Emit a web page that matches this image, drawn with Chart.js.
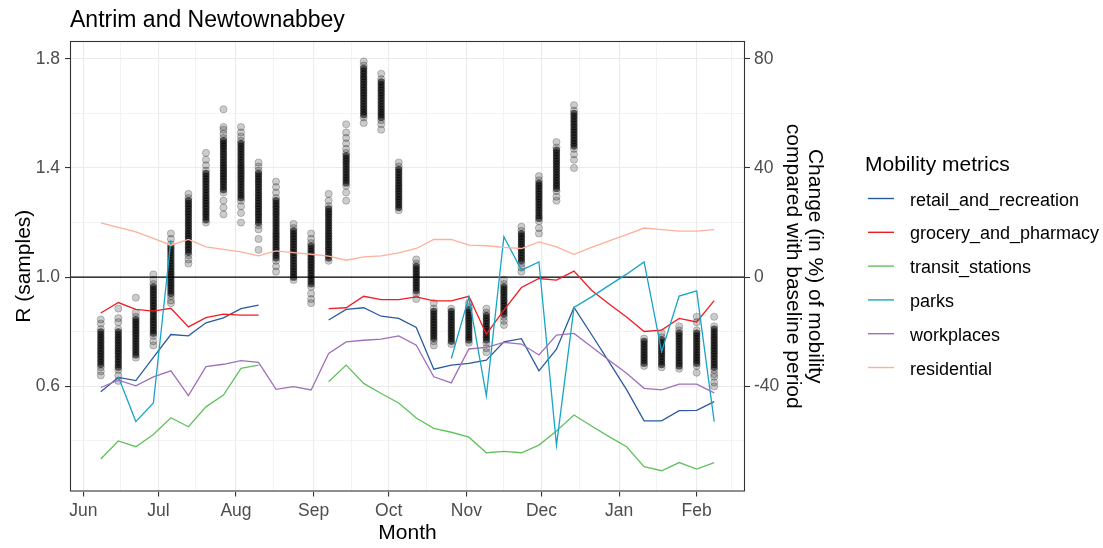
<!DOCTYPE html>
<html>
<head>
<meta charset="utf-8">
<title>Antrim and Newtownabbey</title>
<script src="https://cdn.jsdelivr.net/npm/chart.js@4.4.0/dist/chart.umd.min.js"></script>
<style>
    html, body { margin: 0; padding: 0; background: #ffffff; }
    #wrap { width: 1103px; height: 548px; }
</style>
</head>
<body>
<div id="wrap"><canvas id="chart" width="1103" height="548"></canvas></div>
<script>
// Weekly dates (one point per week for mobility and for the R samples)
const weeks = [
    '2020-06-08', '2020-06-15', '2020-06-22', '2020-06-29', '2020-07-06', '2020-07-13',
    '2020-07-20', '2020-07-27', '2020-08-03', '2020-08-10', '2020-08-17', '2020-08-24',
    '2020-08-31', '2020-09-07', '2020-09-14', '2020-09-21', '2020-09-28', '2020-10-05',
    '2020-10-12', '2020-10-19', '2020-10-26', '2020-11-02', '2020-11-09', '2020-11-16',
    '2020-11-23', '2020-11-30', '2020-12-07', '2020-12-14', '2020-12-21', '2020-12-28',
    '2021-01-04', '2021-01-11', '2021-01-18', '2021-01-25', '2021-02-01', '2021-02-08'
];

// Mobility change (%) vs baseline, right axis
const retail = [-42.0, -36.7, -37.9, -29.4, -21.0, -21.5, -16.7, -14.9, -11.5, -10.2, null, null, null, -15.7, -11.8, -11.2, -14.3, -15.1, -18.4, -33.7, -32.2, -31.6, -30.4, -23.7, -22.5, -34.3, -26.4, -11.1, -21.0, -31.0, -41.2, -52.6, -52.6, -48.9, -48.8, -45.6];
const grocery = [-13.1, -9.3, -11.8, -12.4, -11.4, -18.2, -14.8, -13.5, -13.9, -13.9, null, null, null, -11.5, -11.2, -7.0, -8.2, -8.2, -7.2, -8.7, -8.7, -7.0, -20.9, -12.1, -3.8, -0.5, -1.1, 2.2, -4.8, -9.8, -14.6, -19.9, -19.4, -15.1, -16.4, -8.6];
const transit = [-66.6, -60.0, -62.1, -57.6, -51.5, -54.8, -47.5, -43.2, -33.4, -32.2, null, null, null, -38.3, -32.2, -38.9, -42.6, -46.1, -51.6, -55.4, -56.8, -58.6, -64.3, -63.8, -64.3, -61.5, -56.3, -50.5, -54.5, -58.4, -62.1, -69.4, -70.9, -67.9, -70.3, -67.9];
const parks = [null, -36.5, -52.9, -46.1, 13.5, null, null, null, null, null, null, null, null, null, null, null, null, null, null, null, -29.8, -7.3, -43.5, 14.8, 2.6, 5.6, -61.6, -11.1, -7.2, -3.0, 1.1, 5.6, -27.3, -6.9, -5.0, -52.9];
const workplaces = [-40.4, -37.7, -39.8, -36.5, -34.3, -43.4, -32.8, -31.9, -30.6, -31.2, -41.1, -40.1, -41.3, -27.9, -23.7, -23.1, -22.7, -21.5, -24.9, -36.5, -38.7, -26.3, -25.7, -23.9, -24.5, -28.5, -21.2, -20.6, -25.5, -30.4, -35.2, -40.7, -41.3, -39.2, -39.2, -42.4];
const residential = [19.9, 18.2, 16.6, 14.2, 11.7, 13.8, 11.1, 10.2, 9.3, 7.8, 9.6, 9.0, 8.4, 7.7, 6.2, 7.4, 7.8, 8.9, 10.5, 13.8, 13.8, 11.7, 11.5, 10.9, 10.5, 12.9, 11.1, 8.4, 10.9, 13.3, 15.6, 18.0, 17.4, 16.9, 16.9, 17.4];

// R samples per week (left axis)
const rSamples = [
    [0.845, 0.83, 0.81, 0.80, 0.79, 0.78, 0.77, 0.76, 0.75, 0.74, 0.73, 0.72, 0.71, 0.70, 0.69, 0.68, 0.67, 0.655, 0.64],
    [0.885, 0.85, 0.835, 0.81, 0.80, 0.79, 0.78, 0.77, 0.76, 0.75, 0.74, 0.73, 0.72, 0.71, 0.70, 0.69, 0.68, 0.67, 0.66, 0.64, 0.62],
    [0.925, 0.87, 0.855, 0.845, 0.835, 0.825, 0.815, 0.805, 0.795, 0.785, 0.775, 0.765, 0.755, 0.745, 0.735, 0.725, 0.715, 0.705],
    [1.01, 0.99, 0.975, 0.965, 0.955, 0.945, 0.935, 0.925, 0.915, 0.905, 0.895, 0.885, 0.875, 0.865, 0.855, 0.845, 0.835, 0.825, 0.815, 0.805, 0.795, 0.785, 0.765, 0.75],
    [1.16, 1.14, 1.12, 1.11, 1.10, 1.09, 1.08, 1.07, 1.06, 1.05, 1.04, 1.03, 1.02, 1.01, 1.00, 0.99, 0.98, 0.97, 0.96, 0.95, 0.94, 0.93, 0.915, 0.905],
    [1.305, 1.29, 1.28, 1.27, 1.26, 1.25, 1.24, 1.23, 1.22, 1.21, 1.20, 1.19, 1.18, 1.17, 1.16, 1.15, 1.14, 1.13, 1.12, 1.11, 1.10, 1.09, 1.08, 1.065, 1.05],
    [1.455, 1.43, 1.41, 1.39, 1.38, 1.37, 1.36, 1.35, 1.34, 1.33, 1.32, 1.31, 1.30, 1.29, 1.28, 1.27, 1.26, 1.25, 1.24, 1.23, 1.22, 1.21, 1.20],
    [1.615, 1.55, 1.54, 1.525, 1.51, 1.50, 1.49, 1.48, 1.47, 1.46, 1.45, 1.44, 1.43, 1.42, 1.41, 1.40, 1.39, 1.38, 1.37, 1.36, 1.35, 1.34, 1.33, 1.32, 1.31, 1.28, 1.255, 1.23],
    [1.55, 1.53, 1.515, 1.50, 1.49, 1.48, 1.47, 1.46, 1.45, 1.44, 1.43, 1.42, 1.41, 1.40, 1.39, 1.38, 1.37, 1.36, 1.35, 1.34, 1.33, 1.32, 1.31, 1.30, 1.29, 1.28, 1.26, 1.235, 1.20],
    [1.42, 1.405, 1.39, 1.38, 1.37, 1.36, 1.35, 1.34, 1.33, 1.32, 1.31, 1.30, 1.29, 1.28, 1.27, 1.26, 1.25, 1.24, 1.23, 1.22, 1.21, 1.20, 1.19, 1.175, 1.14, 1.10],
    [1.35, 1.33, 1.31, 1.29, 1.28, 1.27, 1.26, 1.25, 1.24, 1.23, 1.22, 1.21, 1.20, 1.19, 1.18, 1.17, 1.16, 1.15, 1.14, 1.13, 1.12, 1.11, 1.10, 1.09, 1.08, 1.07, 1.06, 1.04, 1.02],
    [1.195, 1.18, 1.17, 1.16, 1.15, 1.14, 1.13, 1.12, 1.11, 1.10, 1.09, 1.08, 1.07, 1.06, 1.05, 1.04, 1.03, 1.02, 1.01, 1.00, 0.99],
    [1.16, 1.14, 1.125, 1.115, 1.105, 1.095, 1.085, 1.075, 1.065, 1.055, 1.045, 1.035, 1.025, 1.015, 1.005, 0.995, 0.985, 0.975, 0.965, 0.94, 0.92, 0.905],
    [1.305, 1.28, 1.26, 1.25, 1.24, 1.23, 1.22, 1.21, 1.20, 1.19, 1.18, 1.17, 1.16, 1.15, 1.14, 1.13, 1.12, 1.11, 1.10, 1.09, 1.08, 1.07, 1.06],
    [1.56, 1.53, 1.51, 1.49, 1.47, 1.455, 1.445, 1.435, 1.425, 1.415, 1.405, 1.395, 1.385, 1.375, 1.365, 1.355, 1.345, 1.335, 1.31, 1.28],
    [1.79, 1.775, 1.765, 1.755, 1.745, 1.735, 1.725, 1.715, 1.705, 1.695, 1.685, 1.675, 1.665, 1.655, 1.645, 1.635, 1.625, 1.615, 1.605, 1.595, 1.585, 1.565],
    [1.745, 1.725, 1.715, 1.705, 1.695, 1.685, 1.675, 1.665, 1.655, 1.645, 1.635, 1.625, 1.615, 1.605, 1.595, 1.585, 1.575, 1.56, 1.54],
    [1.42, 1.405, 1.395, 1.385, 1.375, 1.365, 1.355, 1.345, 1.335, 1.325, 1.315, 1.305, 1.295, 1.285, 1.275, 1.265, 1.255, 1.245],
    [1.065, 1.05, 1.04, 1.03, 1.02, 1.01, 1.00, 0.99, 0.98, 0.97, 0.96, 0.95, 0.94, 0.92],
    [0.905, 0.885, 0.875, 0.865, 0.855, 0.845, 0.835, 0.825, 0.815, 0.805, 0.795, 0.785, 0.775, 0.765, 0.75],
    [0.885, 0.875, 0.865, 0.855, 0.845, 0.835, 0.825, 0.815, 0.805, 0.795, 0.785, 0.775, 0.765, 0.755],
    [0.905, 0.89, 0.88, 0.87, 0.86, 0.85, 0.84, 0.83, 0.82, 0.81, 0.80, 0.79, 0.78, 0.77, 0.76],
    [0.885, 0.87, 0.86, 0.85, 0.84, 0.83, 0.82, 0.81, 0.80, 0.79, 0.78, 0.77, 0.76, 0.74, 0.725],
    [0.99, 0.975, 0.965, 0.955, 0.945, 0.935, 0.925, 0.915, 0.905, 0.895, 0.885, 0.875, 0.865, 0.855, 0.84, 0.825],
    [1.185, 1.17, 1.16, 1.15, 1.14, 1.13, 1.12, 1.11, 1.10, 1.09, 1.08, 1.07, 1.06, 1.05, 1.035, 1.02],
    [1.37, 1.355, 1.345, 1.335, 1.325, 1.315, 1.305, 1.295, 1.285, 1.275, 1.265, 1.255, 1.245, 1.235, 1.225, 1.215, 1.205, 1.18, 1.16],
    [1.495, 1.475, 1.465, 1.455, 1.445, 1.435, 1.425, 1.415, 1.405, 1.395, 1.385, 1.375, 1.365, 1.355, 1.345, 1.335, 1.325, 1.315, 1.295, 1.28],
    [1.63, 1.61, 1.60, 1.59, 1.58, 1.57, 1.56, 1.55, 1.54, 1.53, 1.52, 1.51, 1.50, 1.49, 1.48, 1.47, 1.45, 1.43, 1.40],
    [],
    [],
    [],
    [0.775, 0.765, 0.755, 0.745, 0.735, 0.725, 0.715, 0.705, 0.695, 0.685, 0.675],
    [0.795, 0.78, 0.77, 0.76, 0.75, 0.74, 0.73, 0.72, 0.71, 0.70, 0.69, 0.68, 0.67],
    [0.82, 0.805, 0.795, 0.785, 0.775, 0.765, 0.755, 0.745, 0.735, 0.725, 0.715, 0.705, 0.695, 0.685, 0.675, 0.665],
    [0.855, 0.835, 0.805, 0.795, 0.785, 0.775, 0.765, 0.755, 0.745, 0.735, 0.725, 0.715, 0.705, 0.695, 0.685, 0.675, 0.65],
    [0.855, 0.82, 0.81, 0.80, 0.79, 0.78, 0.77, 0.76, 0.75, 0.74, 0.73, 0.72, 0.71, 0.70, 0.69, 0.68, 0.67, 0.66, 0.645, 0.635, 0.615, 0.60]
];

// Axis breaks
const monthTicks = ['2020-06-01', '2020-07-01', '2020-08-01', '2020-09-01', '2020-10-01', '2020-11-01', '2020-12-01', '2021-01-01', '2021-02-01'];
const monthLabels = ['Jun', 'Jul', 'Aug', 'Sep', 'Oct', 'Nov', 'Dec', 'Jan', 'Feb'];
const monthMinorTicks = ['2020-06-16', '2020-07-16', '2020-08-16', '2020-09-16', '2020-10-16', '2020-11-16', '2020-12-16', '2021-01-16', '2021-02-15'];
const rTicks = [0.6, 1.0, 1.4, 1.8];
const rMinorTicks = [0.4, 0.8, 1.2, 1.6];
const mobilityTicks = [-40, 0, 40, 80];
const referenceR = 1;

const series = [
    { label: 'retail_and_recreation', data: retail, color: '#2a5b9f' },
    { label: 'grocery_and_pharmacy', data: grocery, color: '#ee1d23' },
    { label: 'transit_stations', data: transit, color: '#62c15d' },
    { label: 'parks', data: parks, color: '#17a5c6' },
    { label: 'workplaces', data: workplaces, color: '#9e70b8' },
    { label: 'residential', data: residential, color: '#fdb09b' }
];

const FONT = "'Liberation Sans', Arial, sans-serif";
const DAY0 = Date.UTC(2020, 5, 1);

function dayOf(s) {
    const [y, m, d] = s.split('-').map(Number);
    return (Date.UTC(y, m - 1, d) - DAY0) / 86400000;
}

const weekDays = weeks.map(dayOf);
const majorDays = monthTicks.map(dayOf);
const minorDays = monthMinorTicks.map(dayOf);

// panel limits (ggplot-style 5% expansion)
const xMin = -5.3, xMax = 264.3;
const rMin = 0.215, rMax = 1.865;

const isMajorX = v => majorDays.includes(v);
const isMajorR = v => rTicks.some(t => Math.abs(t - v) < 1e-9);

const datasets = series.map((s, i) => ({
    type: 'line',
    label: s.label,
    data: s.data.map((v, j) => ({ x: weekDays[j], y: v })),
    yAxisID: 'y2',
    borderColor: s.color,
    borderWidth: 1.3,
    pointRadius: 0,
    fill: false,
    spanGaps: false,
    tension: 0,
    order: series.length - i
}));

// samples that sit in the dense core of a column overlap many others in the
// original, so they are drawn darker than the lone ones at the ends
const points = [];
rSamples.forEach((col, i) => {
    col.forEach(v => {
        const near = col.filter(w => w !== v && Math.abs(w - v) <= 0.0126).length;
        points.push({ x: weekDays[i], y: v, dense: near >= 2 });
    });
});
datasets.push({
    type: 'scatter',
    label: 'R samples',
    isSamples: true,
    data: points,
    yAxisID: 'y',
    pointRadius: 3.6,
    pointBackgroundColor: ctx => (ctx.raw && ctx.raw.dense) ? 'rgba(0,0,0,0.6)' : 'rgba(0,0,0,0.2)',
    pointBorderColor: ctx => (ctx.raw && ctx.raw.dense) ? 'rgba(0,0,0,0)' : 'rgba(0,0,0,0.28)',
    pointBorderWidth: 0.8,
    order: 20
});

// title, R = 1 line, panel border and legend
const decorations = {
    id: 'decorations',
    afterDatasetDraw(chart, args) {
        if (!chart.data.datasets[args.index].isSamples) return;
        const { ctx, chartArea } = chart;
        const y = chart.scales.y.getPixelForValue(referenceR);
        ctx.save();
        ctx.strokeStyle = '#000000';
        ctx.lineWidth = 1.4;
        ctx.beginPath();
        ctx.moveTo(chartArea.left, y);
        ctx.lineTo(chartArea.right, y);
        ctx.stroke();
        ctx.restore();
    },
    afterDraw(chart) {
        const { ctx, chartArea } = chart;
        ctx.save();
        // panel border
        ctx.strokeStyle = '#333333';
        ctx.lineWidth = 1.1;
        ctx.strokeRect(chartArea.left + 0.5, chartArea.top + 0.5, chartArea.right - chartArea.left - 1, chartArea.bottom - chartArea.top - 1);

        // title
        ctx.fillStyle = '#000000';
        ctx.font = '23px ' + FONT;
        ctx.textAlign = 'left';
        ctx.textBaseline = 'alphabetic';
        ctx.fillText('Antrim and Newtownabbey', 70, 27);

        // legend
        ctx.font = '21px ' + FONT;
        ctx.fillText('Mobility metrics', 865, 171);
        ctx.font = '18px ' + FONT;
        series.forEach((s, i) => {
            const y = 198.5 + i * 33.8;
            ctx.strokeStyle = s.color;
            ctx.lineWidth = 1.4;
            ctx.beginPath();
            ctx.moveTo(868, y);
            ctx.lineTo(894, y);
            ctx.stroke();
            ctx.fillStyle = '#000000';
            ctx.fillText(s.label, 910, y + 7);
        });
        ctx.restore();
    }
};

Chart.defaults.font.family = FONT;
Chart.defaults.devicePixelRatio = 1;

const tickFont = { family: FONT, size: 17.5 };
const titleFont = { family: FONT, size: 21, lineHeight: 1.05 };

new Chart(document.getElementById('chart').getContext('2d'), {
    type: 'line',
    data: { datasets },
    options: {
        responsive: false,
        animation: false,
        events: [],
        layout: { padding: { left: 13, right: 277, top: 41, bottom: 3.5 } },
        plugins: {
            legend: { display: false },
            tooltip: { enabled: false },
            title: { display: false }
        },
        scales: {
            x: {
                type: 'linear',
                position: 'bottom',
                min: xMin,
                max: xMax,
                bounds: 'data',
                afterBuildTicks: axis => {
                    axis.ticks = majorDays.concat(minorDays).sort((a, b) => a - b).map(v => ({ value: v }));
                },
                afterFit: axis => { axis.height = 53; },
                ticks: {
                    autoSkip: false,
                    maxRotation: 0,
                    padding: 4,
                    color: '#4d4d4d',
                    font: tickFont,
                    callback: v => isMajorX(v) ? monthLabels[majorDays.indexOf(v)] : ''
                },
                grid: {
                    color: '#ebebeb',
                    lineWidth: ctx => (ctx.tick && isMajorX(ctx.tick.value)) ? 1.1 : 0.6,
                    tickLength: 5,
                    tickWidth: 1.1,
                    tickColor: ctx => (ctx.tick && isMajorX(ctx.tick.value)) ? '#333333' : 'rgba(0,0,0,0)'
                },
                border: { display: false },
                title: { display: true, text: 'Month', color: '#000000', font: titleFont, padding: 0 }
            },
            y: {
                type: 'linear',
                position: 'left',
                min: rMin,
                max: rMax,
                bounds: 'data',
                afterBuildTicks: axis => {
                    axis.ticks = rTicks.concat(rMinorTicks).sort((a, b) => a - b).map(v => ({ value: v }));
                },
                afterFit: axis => { axis.width = 57; },
                ticks: {
                    padding: 5,
                    color: '#4d4d4d',
                    font: tickFont,
                    callback: v => isMajorR(v) ? v.toFixed(1) : ''
                },
                grid: {
                    color: '#ebebeb',
                    lineWidth: ctx => (ctx.tick && isMajorR(ctx.tick.value)) ? 1.1 : 0.6,
                    tickLength: 5,
                    tickWidth: 1.1,
                    tickColor: ctx => (ctx.tick && isMajorR(ctx.tick.value)) ? '#333333' : 'rgba(0,0,0,0)'
                },
                border: { display: false },
                title: { display: true, text: 'R (samples)', color: '#000000', font: titleFont, padding: 0 }
            },
            y2: {
                type: 'linear',
                position: 'right',
                min: (rMin - referenceR) * 100,
                max: (rMax - referenceR) * 100,
                bounds: 'data',
                afterBuildTicks: axis => {
                    axis.ticks = mobilityTicks.map(v => ({ value: v }));
                },
                afterFit: axis => { axis.width = 81; },
                ticks: {
                    padding: 4,
                    color: '#4d4d4d',
                    font: tickFont,
                    callback: v => String(v)
                },
                grid: {
                    display: true,
                    drawOnChartArea: false,
                    tickLength: 5,
                    tickWidth: 1.1,
                    tickColor: '#333333'
                },
                border: { display: false },
                title: {
                    display: true,
                    text: ['Change (in %) of mobility', 'compared with baseline period'],
                    color: '#000000',
                    font: titleFont,
                    padding: 0
                }
            }
        }
    },
    plugins: [decorations]
});
</script>
</body>
</html>
